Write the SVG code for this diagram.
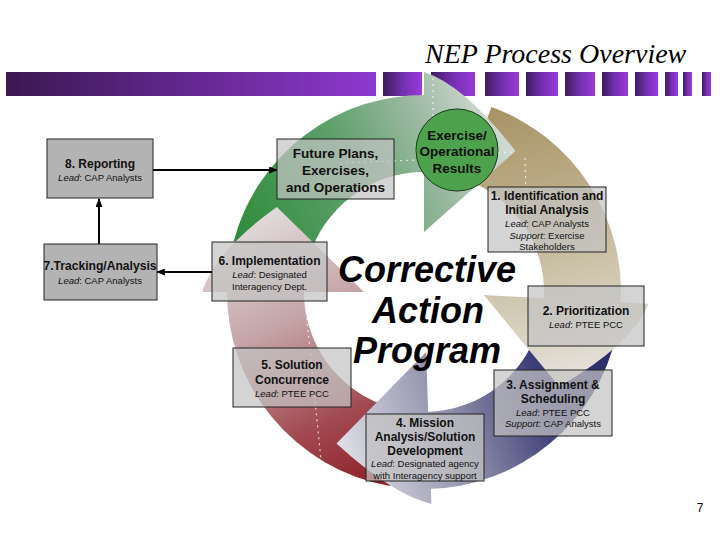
<svg xmlns="http://www.w3.org/2000/svg" width="720" height="540" viewBox="0 0 720 540">
<defs>
<linearGradient id="gBar" x1="0" y1="0" x2="1" y2="0"><stop offset="0" stop-color="#3a1850"/><stop offset="1" stop-color="#8e38d0"/></linearGradient>
<linearGradient id="gSq" x1="0" y1="0" x2="1" y2="0"><stop offset="0" stop-color="#3c1c5e"/><stop offset="0.5" stop-color="#7430b0"/><stop offset="1" stop-color="#9a3ad8"/></linearGradient>
<linearGradient id="gGreen" gradientUnits="userSpaceOnUse" x1="240" y1="250" x2="500" y2="140"><stop offset="0" stop-color="#2e8c3c"/><stop offset="0.45" stop-color="#5c9f68"/><stop offset="0.75" stop-color="#9ab8a0"/><stop offset="1" stop-color="#cdd8cf"/></linearGradient>
<linearGradient id="gTan" gradientUnits="userSpaceOnUse" x1="490" y1="110" x2="560" y2="385"><stop offset="0" stop-color="#a89366"/><stop offset="0.45" stop-color="#c2b594"/><stop offset="1" stop-color="#e6e3dc"/></linearGradient>
<linearGradient id="gBlue" gradientUnits="userSpaceOnUse" x1="620" y1="340" x2="340" y2="440"><stop offset="0" stop-color="#2a2a6a"/><stop offset="0.3" stop-color="#3c3c78"/><stop offset="0.6" stop-color="#8a8aa6"/><stop offset="1" stop-color="#dcdce4"/></linearGradient>
<linearGradient id="gRed" gradientUnits="userSpaceOnUse" x1="395" y1="490" x2="270" y2="215"><stop offset="0" stop-color="#8a1a22"/><stop offset="0.3" stop-color="#a24a52"/><stop offset="0.65" stop-color="#c4a4a6"/><stop offset="1" stop-color="#e0d8d8"/></linearGradient>
<marker id="ah" viewBox="0 0 10 8" refX="9" refY="4" markerWidth="9" markerHeight="7" markerUnits="userSpaceOnUse" orient="auto"><path d="M0,0 L10,4 L0,8 Z" fill="#000"/></marker>
</defs>
<style>
.b{font-family:"Liberation Sans",Arial,sans-serif;font-weight:bold;font-size:12px;fill:#111;text-anchor:middle}
.b2{font-family:"Liberation Sans",Arial,sans-serif;font-weight:bold;font-size:13.5px;fill:#111;text-anchor:middle}
.s{font-family:"Liberation Sans",Arial,sans-serif;font-size:9.5px;fill:#111;text-anchor:middle}
.big{font-family:"Liberation Sans",Arial,sans-serif;font-weight:bold;font-style:italic;font-size:36px;fill:#000;text-anchor:middle}
.box{fill:#c4c4c4;fill-opacity:0.72;stroke:#222;stroke-width:1}
.sbox{fill:#b3b3b3;stroke:#222;stroke-width:1}
.conn{stroke:#000;stroke-width:2;fill:none;marker-end:url(#ah)}
.dot{stroke:#fff;stroke-width:1.2;stroke-dasharray:2 4;fill:none;opacity:0.75}
.sq{fill:url(#gSq)}
</style>
<rect width="720" height="540" fill="#fff"/>
<g id="title">
<text x="425" y="63" font-family="'Liberation Serif','Times New Roman',serif" font-style="italic" font-size="28" fill="#000">NEP Process Overview</text>
<rect x="6" y="72" width="370" height="24" fill="url(#gBar)"/>
<rect class="sq" x="383" y="72" width="39" height="24"/>
<rect class="sq" x="431" y="72" width="44" height="24"/>
<rect class="sq" x="485" y="72" width="34" height="24"/>
<rect class="sq" x="526" y="72" width="32" height="24"/>
<rect class="sq" x="565" y="72" width="30" height="24"/>
<rect class="sq" x="602" y="72" width="26" height="24"/>
<rect class="sq" x="635" y="72" width="23" height="24"/>
<rect class="sq" x="665" y="72" width="13" height="24"/>
<rect class="sq" x="683" y="72" width="9" height="24"/>
<rect class="sq" x="702" y="72" width="9" height="24"/>
</g>
<g id="cycle">
<path d="M 233.7 241 A 197 197 0 0 1 427.4 95 L 426.1 172 A 120 120 0 0 0 308.1 260.9 Z" fill="url(#gGreen)"/>
<path d="M 491.4 106.9 A 197 197 0 0 1 620.5 305.7 L 543.7 300.4 A 120 120 0 0 0 465 179.2 Z" fill="url(#gTan)"/>
<path d="M 616.7 333 A 197 197 0 0 1 427.4 489 L 426.1 412 A 120 120 0 0 0 541.4 317 Z" fill="url(#gBlue)"/>
<path d="M 389.8 486 A 197 197 0 0 1 227 288.6 L 304 289.9 A 120 120 0 0 0 403.2 410.2 Z" fill="url(#gRed)"/>
<path d="M 424 72 Q 464.3 84.9 515.5 151.1 L 424 232 Z" fill="url(#gGreen)"/>
<path d="M 648.7 303.8 Q 632.6 344 559.2 386.6 L 483.9 295.1 Z" fill="url(#gTan)"/>
<path d="M 431.4 503.9 Q 391.9 494.5 336.5 443.6 L 426.1 352 Z" fill="url(#gBlue)"/>
<path d="M 202 292 Q 214.9 251.4 276.8 207 L 364 292 Z" fill="url(#gRed)"/>
<path class="dot" d="M433,78 V135 M340,163 L415,160 M498,153 L512,152 M525,158 L527,230 M536,257 L538,283 M305,300 L322,470"/>
</g>
<g id="connectors">
<path class="conn" d="M153,170 H277"/>
<path class="conn" d="M99,244 V199"/>
<path class="conn" d="M212,272 H157"/>
</g>
<g id="n8">
<rect class="sbox" x="47" y="139" width="106" height="59"/>
<text class="b" x="100" y="168">8. Reporting</text>
<text class="s" x="100" y="180.5"><tspan font-style="italic">Lead</tspan>: CAP Analysts</text>
</g>
<g id="n7">
<rect class="sbox" x="44" y="244" width="113" height="56"/>
<text class="b" x="100" y="269.5" textLength="113" lengthAdjust="spacingAndGlyphs">7.Tracking/Analysis</text>
<text class="s" x="100" y="283.5"><tspan font-style="italic">Lead</tspan>: CAP Analysts</text>
</g>
<g id="nFuture">
<rect class="box" x="277" y="139" width="117" height="60"/>
<text class="b2" x="335.5" y="158">Future Plans,</text>
<text class="b2" x="335.5" y="175">Exercises,</text>
<text class="b2" x="335.5" y="191.5">and Operations</text>
</g>
<g id="nResults">
<circle cx="457" cy="150" r="41" fill="#4ea24e" stroke="#1a3a1a" stroke-width="1"/>
<text class="b2" x="457" y="139.5">Exercise/</text>
<text class="b2" x="457" y="156">Operational</text>
<text class="b2" x="457" y="172.5">Results</text>
</g>
<g id="n1">
<rect class="box" x="488" y="187" width="118" height="65"/>
<text class="b" x="547" y="199.5">1. Identification and</text>
<text class="b" x="547" y="213.5">Initial Analysis</text>
<text class="s" x="547" y="226.5"><tspan font-style="italic">Lead</tspan>: CAP Analysts</text>
<text class="s" x="547" y="238.5"><tspan font-style="italic">Support</tspan>: Exercise</text>
<text class="s" x="547" y="250">Stakeholders</text>
</g>
<g id="n2">
<rect class="box" x="528" y="286" width="116" height="60"/>
<text class="b" x="586" y="314.5">2. Prioritization</text>
<text class="s" x="586" y="327.5"><tspan font-style="italic">Lead</tspan>: PTEE PCC</text>
</g>
<g id="n3">
<rect class="box" x="494" y="370" width="118" height="66"/>
<text class="b" x="553" y="388.5">3. Assignment &amp;</text>
<text class="b" x="553" y="402.5">Scheduling</text>
<text class="s" x="553" y="415.5"><tspan font-style="italic">Lead</tspan>: PTEE PCC</text>
<text class="s" x="553" y="427"><tspan font-style="italic">Support</tspan>: CAP Analysts</text>
</g>
<g id="n4">
<rect class="box" x="366" y="414" width="118" height="67"/>
<text class="b" x="425" y="426.5">4. Mission</text>
<text class="b" x="425" y="440.5">Analysis/Solution</text>
<text class="b" x="425" y="454.5">Development</text>
<text class="s" x="425" y="466.5"><tspan font-style="italic">Lead</tspan>: Designated agency</text>
<text class="s" x="425" y="479">with Interagency support</text>
</g>
<g id="n5">
<rect class="box" x="233" y="348" width="118" height="59"/>
<text class="b" x="292" y="368.5">5. Solution</text>
<text class="b" x="292" y="383.5">Concurrence</text>
<text class="s" x="292" y="396.5"><tspan font-style="italic">Lead</tspan>: PTEE PCC</text>
</g>
<g id="n6">
<rect class="box" x="212" y="242" width="115" height="59"/>
<text class="b" x="269.5" y="264.5">6. Implementation</text>
<text class="s" x="269.5" y="277.5"><tspan font-style="italic">Lead</tspan>: Designated</text>
<text class="s" x="269.5" y="289.5">Interagency Dept.</text>
</g>
<g id="center">
<text class="big" x="427" y="282">Corrective</text>
<text class="big" x="428" y="323">Action</text>
<text class="big" x="427" y="363">Program</text>
</g>
<text x="700" y="512" font-family="'Liberation Sans',Arial,sans-serif" font-size="12" fill="#000" text-anchor="middle">7</text>
</svg>
